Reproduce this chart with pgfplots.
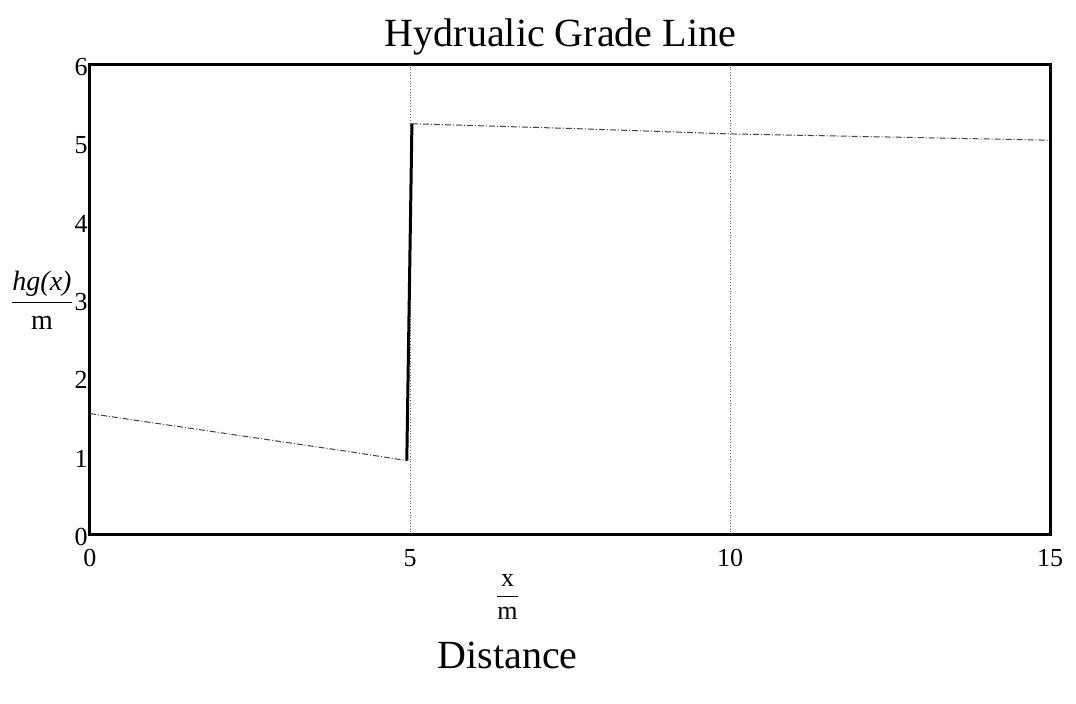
\documentclass[border=0pt]{standalone}
\usepackage{fontspec}
\setmainfont{Liberation Serif}
\usepackage{pgfplots}
\usetikzlibrary{calc}
\pgfplotsset{compat=1.18}
\begin{document}
\begin{tikzpicture}
\begin{axis}[
  name=ax,
  scale only axis, width=480pt, height=235pt,
  xmin=0, xmax=15, ymin=0, ymax=6,
  xtick={0,5,10,15}, ytick={0,1,2,3,4,5,6},
  major tick length=0pt,
  axis line style={line width=1.5pt},
  xmajorgrids,
  grid style={densely dotted, black!60, line width=0.5pt},
  tick label style={font=\fontsize{13}{13}\selectfont},
  /pgf/number format/assume math mode=true,
  yticklabel style={inner xsep=1pt, yshift=-1pt},
  xticklabel style={yshift=-3.5pt},
  clip=false,
]
\addplot[line width=0.5pt, densely dashdotted, black!75] coordinates {(0,1.55) (1,1.43) (2,1.31) (3,1.19) (4,1.07) (4.95,0.95)};
\addplot[line width=1.5pt, black] coordinates {(4.95,0.95) (5.03,5.25)};
\addplot[line width=0.5pt, densely dashdotted, black!75] coordinates {(5.03,5.25) (7.5,5.19) (10,5.12) (12.5,5.08) (15,5.04)};
\end{axis}
\node[font=\fontsize{20}{24}\selectfont] at ([yshift=14pt]$(ax.north west)!0.49!(ax.north east)$) {Hydrualic Grade Line};
\node[font=\fontsize{14}{16}\selectfont] at ([xshift=-24pt]$(ax.south west)!0.5!(ax.north west)$) {$\displaystyle\frac{\mbox{\itshape hg(x)}}{\mbox{m}}$};
\node[font=\fontsize{13}{15}\selectfont] at ([yshift=-31pt]$(ax.south west)!0.435!(ax.south east)$) {$\displaystyle\frac{\mbox{x}}{\mbox{m}}$};
\node[font=\fontsize{20}{24}\selectfont] at ([yshift=-60pt]$(ax.south west)!0.435!(ax.south east)$) {Distance};
\pgfresetboundingbox
\path ([shift={(-45pt,-84.5pt)}]ax.south west) rectangle ([shift={(13pt,32.5pt)}]ax.north east);
\end{tikzpicture}
\end{document}
